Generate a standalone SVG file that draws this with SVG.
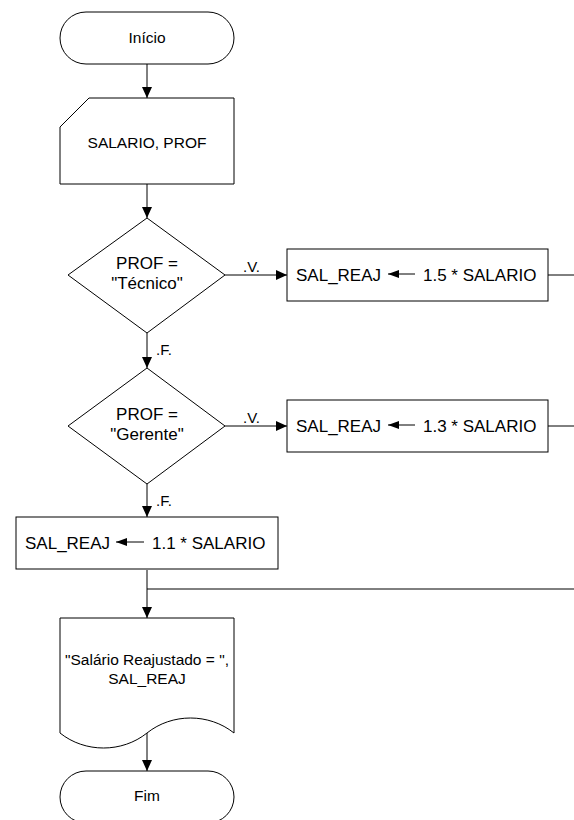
<svg xmlns="http://www.w3.org/2000/svg" width="574" height="820" viewBox="0 0 574 820">
<style>
.shape{fill:#fff;stroke:#000;stroke-width:1}
.conn{fill:none;stroke:#000;stroke-width:1}
text{font-family:"Liberation Sans",Arial,sans-serif;fill:#000}
.t15{font-size:15.5px}
.t17{font-size:17px}
.lbl{font-size:15px}
.mid{text-anchor:middle}
</style>
<defs>
<marker id="ah" markerUnits="userSpaceOnUse" markerWidth="11" markerHeight="10" refX="11" refY="5" orient="auto"><path d="M0,0 L11,5 L0,10 z" fill="#000"/></marker>
<marker id="ahs" markerUnits="userSpaceOnUse" markerWidth="11" markerHeight="8" refX="11" refY="4" orient="auto"><path d="M0,0 L11,4 L0,8 z" fill="#000"/></marker>
</defs>
<g id="connectors">
<line class="conn" x1="147" y1="64" x2="147" y2="98" marker-end="url(#ah)"/>
<line class="conn" x1="147" y1="184" x2="147" y2="218" marker-end="url(#ah)"/>
<line class="conn" x1="225" y1="275" x2="287" y2="275" marker-end="url(#ah)"/>
<text class="lbl" x="243" y="272">.V.</text>
<line class="conn" x1="147" y1="333" x2="147" y2="368" marker-end="url(#ah)"/>
<text class="lbl" x="156" y="355">.F.</text>
<line class="conn" x1="225" y1="426" x2="287" y2="426" marker-end="url(#ah)"/>
<text class="lbl" x="243" y="423">.V.</text>
<line class="conn" x1="147" y1="484" x2="147" y2="517" marker-end="url(#ah)"/>
<text class="lbl" x="156" y="506">.F.</text>
<line class="conn" x1="548" y1="275" x2="574" y2="275"/>
<line class="conn" x1="548" y1="426" x2="574" y2="426"/>
<line class="conn" x1="147" y1="570" x2="147" y2="618" marker-end="url(#ah)"/>
<line class="conn" x1="147" y1="589" x2="574" y2="589"/>
<line class="conn" x1="147" y1="733" x2="147" y2="771" marker-end="url(#ah)"/>
</g>
<g id="inicio">
<rect class="shape" x="60" y="12" width="174" height="52" rx="26" ry="26"/>
<text class="t15 mid" x="147" y="43">Início</text>
</g>
<g id="entrada">
<path class="shape" d="M89,98 L234,98 L234,184 L60,184 L60,127 Z"/>
<text class="t15 mid" x="147" y="148">SALARIO, PROF</text>
</g>
<g id="decisao1">
<path class="shape" d="M147,218 L225,275 L147,333 L68,275 Z"/>
<text class="t17 mid" x="147" y="269">PROF =</text>
<text class="t17 mid" x="147" y="289">"Técnico"</text>
</g>
<g id="proc1">
<rect class="shape" x="287" y="249" width="261" height="52"/>
<text class="t17" x="296" y="281">SAL_REAJ</text>
<line class="conn" x1="415" y1="274" x2="388" y2="274" marker-end="url(#ahs)"/>
<text class="t17" x="423" y="281">1.5 * SALARIO</text>
</g>
<g id="decisao2">
<path class="shape" d="M147,368 L225,426 L147,484 L68,426 Z"/>
<text class="t17 mid" x="147" y="420">PROF =</text>
<text class="t17 mid" x="147" y="440">"Gerente"</text>
</g>
<g id="proc2">
<rect class="shape" x="287" y="400" width="261" height="52"/>
<text class="t17" x="296" y="432">SAL_REAJ</text>
<line class="conn" x1="415" y1="425" x2="388" y2="425" marker-end="url(#ahs)"/>
<text class="t17" x="423" y="432">1.3 * SALARIO</text>
</g>
<g id="proc3">
<rect class="shape" x="16" y="517" width="262" height="52"/>
<text class="t17" x="25" y="549">SAL_REAJ</text>
<line class="conn" x1="144" y1="542" x2="116" y2="542" marker-end="url(#ahs)"/>
<text class="t17" x="152" y="549">1.1 * SALARIO</text>
</g>
<g id="saida">
<path class="shape" d="M60,618 L234,618 L234,733 C209,713 172,713 147,733 C122,753 85,753 60,733 Z"/>
<text class="t15 mid" x="147" y="665">"Salário Reajustado = ",</text>
<text class="t15 mid" x="147" y="684">SAL_REAJ</text>
</g>
<g id="fim">
<rect class="shape" x="60" y="771" width="174" height="52" rx="26" ry="26"/>
<text class="t15 mid" x="147" y="801">Fim</text>
</g>
</svg>
